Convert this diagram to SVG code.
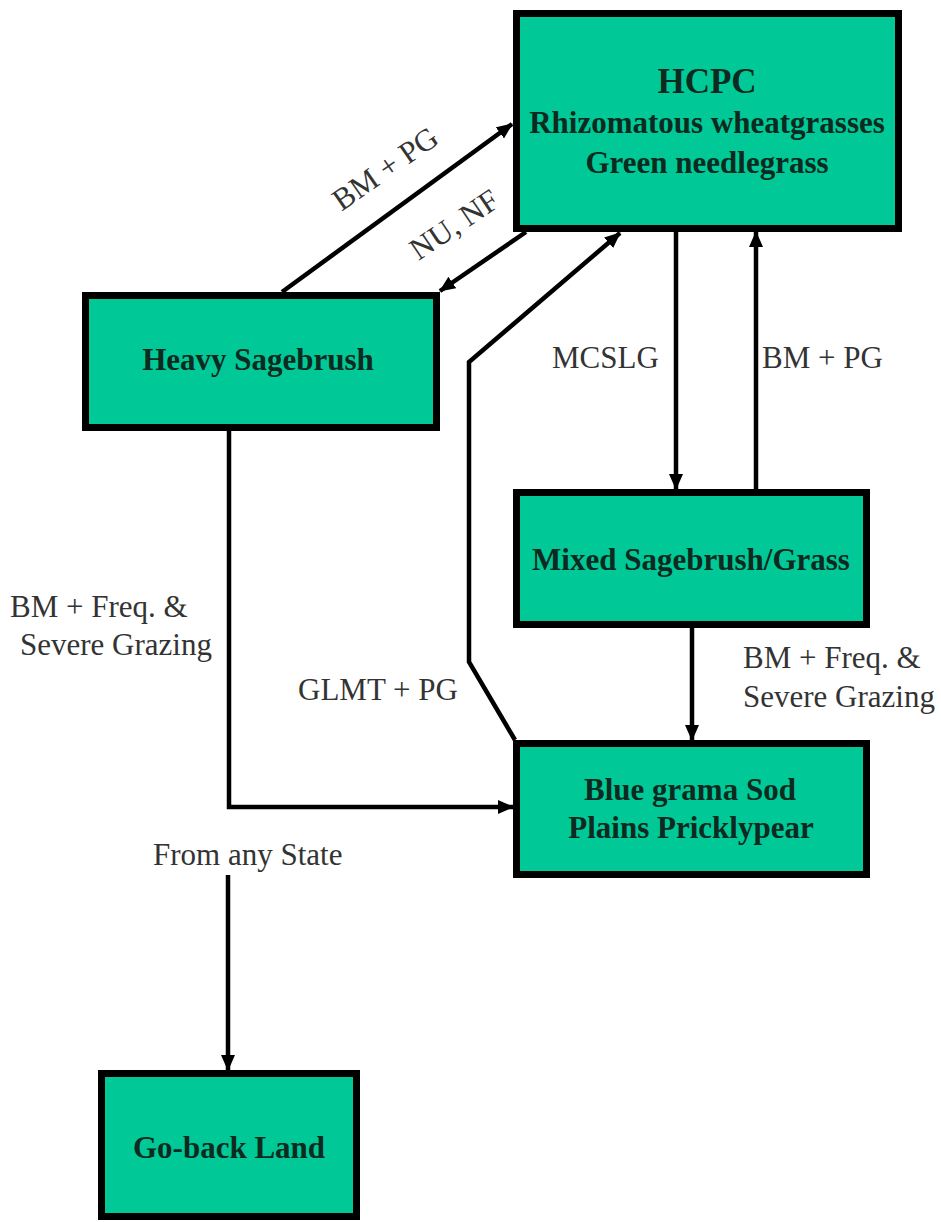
<svg xmlns="http://www.w3.org/2000/svg" width="941" height="1222" viewBox="0 0 941 1222">
<style>
.box{fill:#00C896;stroke:#000;stroke-width:7}
.bt{font-family:'Liberation Serif','Times New Roman',Times,'DejaVu Serif',serif;font-weight:bold;font-size:31px;fill:#0d2a20;text-anchor:middle}
.lb{font-family:'Liberation Serif','Times New Roman',Times,'DejaVu Serif',serif;font-size:31px;fill:#333}
.c{fill:none;stroke:#000;stroke-width:4.5;stroke-linejoin:miter}
</style>
<defs>
<marker id="ah" markerUnits="userSpaceOnUse" markerWidth="16" markerHeight="14" refX="15" refY="7" orient="auto">
<path d="M0,0 L16,7 L0,14 z" fill="#000"/>
</marker>
</defs>
<rect width="941" height="1222" fill="#fff"/>
<g id="connectors">
<line class="c" x1="282" y1="292" x2="512" y2="124" marker-end="url(#ah)"/>
<line class="c" x1="526" y1="232" x2="440" y2="291" marker-end="url(#ah)"/>
<polyline class="c" points="515,740 469,662 469,362 620,233" marker-end="url(#ah)"/>
<line class="c" x1="676" y1="232" x2="676" y2="489" marker-end="url(#ah)"/>
<line class="c" x1="756" y1="489" x2="756" y2="232" marker-end="url(#ah)"/>
<line class="c" x1="692" y1="628" x2="692" y2="740" marker-end="url(#ah)"/>
<polyline class="c" points="229,431 229,807 513,807" marker-end="url(#ah)"/>
<line class="c" x1="228" y1="875" x2="228" y2="1070" marker-end="url(#ah)"/>
</g>
<g id="labels">
<text class="lb" text-anchor="middle" transform="rotate(-35 391 177)" x="391" y="177">BM + PG</text>
<text class="lb" text-anchor="middle" transform="rotate(-34 460 233)" x="460" y="233">NU, NF</text>
<text class="lb" x="552" y="368">MCSLG</text>
<text class="lb" x="762" y="368">BM + PG</text>
<text class="lb" x="10" y="617">BM + Freq.  &amp;</text>
<text class="lb" x="20" y="655">Severe Grazing</text>
<text class="lb" x="743" y="668">BM + Freq.  &amp;</text>
<text class="lb" x="743" y="707">Severe Grazing</text>
<text class="lb" x="298" y="700">GLMT + PG</text>
<text class="lb" x="153" y="865">From any State</text>
</g>
<g id="hcpc">
<rect class="box" x="516.5" y="13.5" width="382" height="215"/>
<text class="bt" x="707" y="93" style="font-size:35px">HCPC</text>
<text class="bt" x="707" y="133">Rhizomatous wheatgrasses</text>
<text class="bt" x="707" y="173">Green needlegrass</text>
</g>
<g id="heavy-sagebrush">
<rect class="box" x="85.5" y="295.5" width="351" height="132"/>
<text class="bt" x="258" y="370">Heavy Sagebrush</text>
</g>
<g id="mixed">
<rect class="box" x="516.5" y="492.5" width="350" height="132"/>
<text class="bt" x="691" y="570">Mixed Sagebrush/Grass</text>
</g>
<g id="blue-grama">
<rect class="box" x="516.5" y="743.5" width="350" height="131"/>
<text class="bt" x="690" y="800">Blue grama Sod</text>
<text class="bt" x="691" y="838">Plains Pricklypear</text>
</g>
<g id="go-back">
<rect class="box" x="101.5" y="1073.5" width="255" height="143"/>
<text class="bt" x="229" y="1158">Go-back Land</text>
</g>
</svg>
